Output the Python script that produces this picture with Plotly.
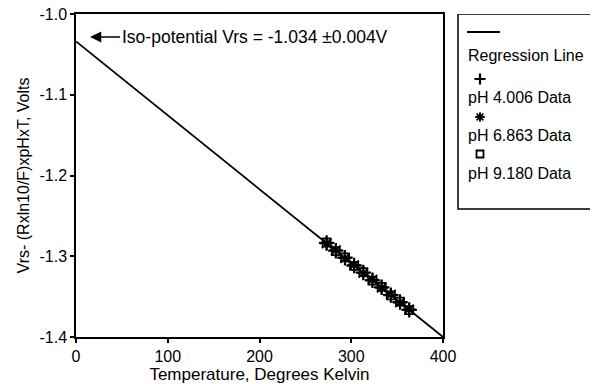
import plotly.graph_objects as go

# ---- data ----
temperature_k = [273.15, 283.15, 293.15, 303.15, 313.15, 323.15, 333.15, 343.15, 353.15, 363.15]
ph4_values = [-1.2835, -1.2932, -1.3018, -1.3115, -1.3201, -1.3298, -1.3384, -1.3481, -1.3567, -1.3664]
ph6_values = [-1.2841, -1.2925, -1.3024, -1.3108, -1.3207, -1.3290, -1.3390, -1.3474, -1.3573, -1.3657]
ph9_values = [-1.2830, -1.2936, -1.3013, -1.3119, -1.3196, -1.3302, -1.3379, -1.3485, -1.3562, -1.3668]
regression_x = [0, 400]
regression_y = [-1.034, -1.400]
x_ticks = [0, 100, 200, 300, 400]
y_ticks = [-1.0, -1.1, -1.2, -1.3, -1.4]
y_tick_labels = ["-1.0", "-1.1", "-1.2", "-1.3", "-1.4"]
legend_labels = ["Regression Line", "pH 4.006 Data", "pH 6.863 Data", "pH 9.180 Data"]
annotation_text = "Iso-potential Vrs = -1.034 \u00b10.004V"

FONT = "Liberation Sans, Arial, Helvetica, sans-serif"
W, H = 595, 384
L, R, T, B = 76, 443, 14, 337  # plot area pixels
MR = 5
RIGHT = W - MR
PW = RIGHT - L  # paper width

def px(xp):
    return (xp - L) / PW

marker_styles = [
    dict(symbol="cross-thin-open", size=11, color="black", line=dict(color="black", width=2.2)),
    dict(symbol="asterisk-open", size=11, color="black", line=dict(color="black", width=1.8)),
    dict(symbol="square-open", size=8, color="black", line=dict(color="black", width=1.8)),
]
legend_marker_sizes = [8, 8, 7]

fig = go.Figure()
fig.add_trace(go.Scatter(x=regression_x, y=regression_y, mode="lines",
                         line=dict(color="black", width=1.8), showlegend=False))
for vals, ms in zip([ph4_values, ph6_values, ph9_values], marker_styles):
    fig.add_trace(go.Scatter(x=temperature_k, y=vals, mode="markers", marker=ms, showlegend=False))

# legend symbols drawn on an overlay axis spanning the legend box (pixel-like coords)
legend_glyph_y = [79, 117, 154]
for yy, ms, sz in zip(legend_glyph_y, marker_styles, legend_marker_sizes):
    m = dict(ms)
    m["size"] = sz
    fig.add_trace(go.Scatter(x=[480], y=[yy], mode="markers", marker=m, showlegend=False,
                             xaxis="x2", yaxis="y2", hoverinfo="skip"))

annotations = [
    dict(x=15.3, y=-1.0285, xref="x", yref="y", text=annotation_text,
         showarrow=True, ax=30, ay=0, xanchor="left", arrowhead=2, arrowsize=1.4,
         arrowwidth=1.6, arrowcolor="black", standoff=0,
         font=dict(family=FONT, size=17.5, color="black")),
]

legend_text_y = [55, 97, 135, 173]
for lab, yy in zip(legend_labels, legend_text_y):
    annotations.append(dict(x=466, y=yy, xref="x2", yref="y2", text=lab,
                            showarrow=False, xanchor="left", yanchor="middle",
                            font=dict(family=FONT, size=16, color="black")))

shapes = [
    dict(type="rect", xref="x2", yref="y2", x0=458, x1=RIGHT + 20, y0=209, y1=14,
         line=dict(color="black", width=1.5), fillcolor="rgba(0,0,0,0)"),
    dict(type="line", xref="x2", yref="y2", x0=467, x1=500, y0=32, y1=32,
         line=dict(color="black", width=1.8)),
]

fig.update_layout(
    width=W, height=H, autosize=False,
    margin=dict(l=L, r=MR, t=T, b=H - B, pad=0, autoexpand=False),
    paper_bgcolor="white", plot_bgcolor="white",
    font=dict(family=FONT, size=16, color="black"),
    annotations=annotations, shapes=shapes,
    showlegend=False,
    xaxis=dict(domain=[0, (R - L) / PW], range=[0, 400], tickvals=x_ticks, ticks="outside",
               ticklen=4, tickwidth=1.5, tickcolor="black", showline=True, linecolor="black",
               linewidth=1.5, mirror=True, showgrid=False, zeroline=False, automargin=False,
               tickfont=dict(family=FONT, size=16),
               title=dict(text="Temperature, Degrees Kelvin", font=dict(family=FONT, size=17),
                          standoff=7)),
    yaxis=dict(range=[-1.4, -1.0], tickvals=y_ticks, ticktext=y_tick_labels, ticks="outside",
               ticklen=4, tickwidth=1.5, tickcolor="black", showline=True, linecolor="black",
               linewidth=1.5, mirror=True, showgrid=False, zeroline=False, automargin=False,
               tickfont=dict(family=FONT, size=16),
               title=dict(text="Vrs- (Rxln10/F)xpHxT, Volts", font=dict(family=FONT, size=16),
                          standoff=6)),
    xaxis2=dict(domain=[px(452), 1.0], range=[452, RIGHT], anchor="y2", visible=False,
                fixedrange=True),
    yaxis2=dict(domain=[0, 1.0], range=[337, 14], anchor="x2", visible=False,
                fixedrange=True),
)

fig.write_html("out.html", config={"displayModeBar": False})
